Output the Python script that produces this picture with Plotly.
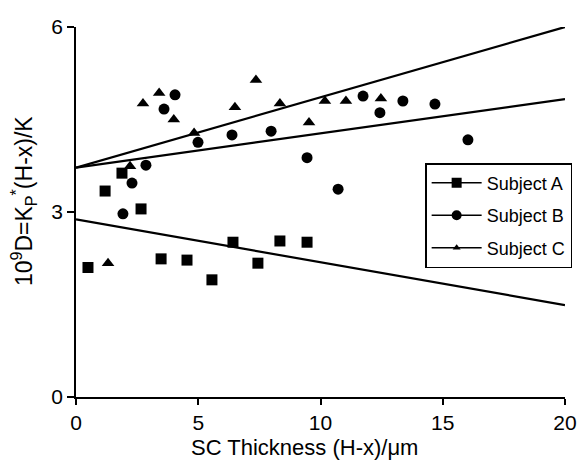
import plotly.graph_objects as go

# Subject A (squares)
a_x = [0.49, 1.19, 1.88, 2.66, 3.48, 4.54, 5.56, 6.42, 7.44, 8.34, 9.45]
a_y = [2.10, 3.34, 3.63, 3.05, 2.24, 2.22, 1.90, 2.51, 2.17, 2.53, 2.51]
# Subject B (circles)
b_x = [1.92, 2.29, 2.86, 3.60, 4.05, 4.99, 6.38, 7.98, 9.45, 10.72, 11.74, 12.43, 13.37, 14.68, 16.03]
b_y = [2.97, 3.47, 3.76, 4.67, 4.90, 4.13, 4.25, 4.31, 3.88, 3.37, 4.88, 4.61, 4.80, 4.75, 4.17]
# Subject C (triangles)
c_x = [1.31, 2.21, 2.74, 3.40, 4.00, 4.83, 6.50, 7.36, 8.34, 9.53, 10.18, 11.04, 12.47]
c_y = [2.17, 3.74, 4.76, 4.93, 4.50, 4.28, 4.70, 5.14, 4.76, 4.45, 4.80, 4.80, 4.84]

# Fitted lines (endpoints at x=0 and x=20)
fit_x = [0, 20]
fit_upper = [3.72, 6.0]
fit_middle = [3.72, 4.83]
fit_lower = [2.88, 1.49]

x_ticks = [0, 5, 10, 15, 20]
y_ticks = [0, 3, 6]

fig = go.Figure()
for fy in (fit_upper, fit_middle, fit_lower):
    fig.add_trace(go.Scatter(x=fit_x, y=fy, mode="lines",
                             line=dict(color="black", width=2.2),
                             showlegend=False, hoverinfo="skip", cliponaxis=False))

series = [("Subject A", a_x, a_y, "square", 11),
          ("Subject B", b_x, b_y, "circle", 11),
          ("Subject C", c_x, c_y, "triangle-up", 11)]
for name, xs, ys, sym, sz in series:
    fig.add_trace(go.Scatter(x=xs, y=ys, mode="markers", name=name,
                             marker=dict(symbol=sym, size=sz, color="black"),
                             showlegend=False))
for i, (name, xs, ys, sym, sz) in enumerate(series):
    fig.add_trace(go.Scatter(x=[None], y=[None], mode="lines+markers", name=name,
                             legendgroup="g%d" % i,
                             marker=dict(symbol=sym, size=10 if sym != "triangle-up" else 7, color="black"),
                             line=dict(color="black", width=1.5)))

font_family = "Liberation Sans, Arial, Helvetica, sans-serif"
fig.update_layout(
    width=578, height=461,
    margin=dict(l=76, r=13, t=27, b=64, autoexpand=False),
    plot_bgcolor="white", paper_bgcolor="white",
    font=dict(family=font_family, color="black", size=21),
    xaxis=dict(range=[0, 20], tickvals=x_ticks, ticks="outside",
               ticklen=6, tickwidth=1.5, tickcolor="black",
               showline=True, linecolor="black", linewidth=1.5,
               showgrid=False, zeroline=False, automargin=False,
               tickfont=dict(size=21)),
    yaxis=dict(range=[0, 6], tickvals=y_ticks, ticks="outside",
               ticklen=7, tickwidth=1.5, tickcolor="black",
               showline=True, linecolor="black", linewidth=1.5,
               showgrid=False, zeroline=False, automargin=False,
               tickfont=dict(size=21)),
    legend=dict(x=0.714, y=0.632, xanchor="left", yanchor="top",
                bordercolor="black", borderwidth=1.5, bgcolor="white",
                font=dict(size=18), tracegroupgap=6, itemwidth=50),
    annotations=[
        dict(text="SC Thickness (H-x)/\u03bcm", xref="paper", yref="paper",
             x=0.468, y=-0.137, xanchor="center", yanchor="middle",
             showarrow=False, font=dict(size=22)),
        dict(text="10<sup>9</sup>D=K<sub>P</sub><sup>*</sup>(H-x)/K", xref="paper", yref="paper",
             x=-0.108, y=0.53, xanchor="center", yanchor="middle", textangle=-90,
             showarrow=False, font=dict(size=23)),
    ],
)

fig.write_html("out.html")
